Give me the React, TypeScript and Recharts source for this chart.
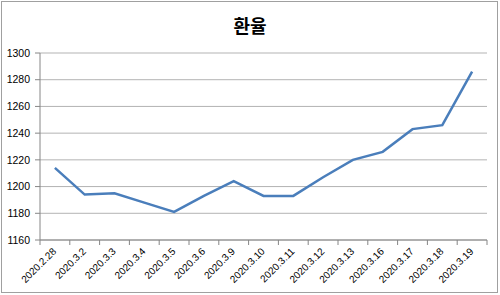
import { LineChart, Line, XAxis, YAxis, CartesianGrid } from "recharts";

const dates = [
  "2020.2.28",
  "2020.3.2",
  "2020.3.3",
  "2020.3.4",
  "2020.3.5",
  "2020.3.6",
  "2020.3.9",
  "2020.3.10",
  "2020.3.11",
  "2020.3.12",
  "2020.3.13",
  "2020.3.16",
  "2020.3.17",
  "2020.3.18",
  "2020.3.19",
];
const rates = [1214, 1194, 1195, 1188, 1181, 1193, 1204, 1193, 1193, 1207, 1220, 1226, 1243, 1246, 1286];
const yTicks = [1160, 1180, 1200, 1220, 1240, 1260, 1280, 1300];

const data = dates.map((d, i) => ({ date: d, rate: rates[i] }));

const axisGray = "#868686";
const gridGray = "#b3b3b3";
const lineBlue = "#4a7ebb";
const labelFont = "'Liberation Sans', Arial, sans-serif";

function DateTick(props: any) {
  const { x, y, payload } = props;
  const half = payload.offset || 0;
  const isLast = payload.value === dates[dates.length - 1];
  const ax = x + 2;
  const ay = y + 12;
  return (
    <g>
      <line x1={x - half} x2={x - half} y1={y} y2={y + 5} stroke={axisGray} />
      {isLast && <line x1={x + half} x2={x + half} y1={y} y2={y + 5} stroke={axisGray} />}
      <text
        x={ax}
        y={ay}
        textAnchor="end"
        fontSize={10}
        fontFamily={labelFont}
        fill="#000"
        transform={`rotate(-45 ${ax} ${ay})`}
      >
        {payload.value}
      </text>
    </g>
  );
}

export default function App() {
  return (
    <div style={{ position: "absolute", left: 0, top: 0, width: 500, height: 295, background: "#fff" }}>
      <div
        style={{
          position: "absolute",
          left: 1,
          top: 1,
          width: 497,
          height: 292,
          border: "1px solid #a0a0a0",
          boxSizing: "border-box",
          pointerEvents: "none",
        }}
      />
      <div
        style={{
          position: "absolute",
          left: 0,
          top: 13,
          width: 500,
          textAlign: "center",
          fontFamily: "'Noto Sans CJK KR', sans-serif",
          fontWeight: 700,
          fontSize: 18,
          lineHeight: "24px",
          color: "#000",
        }}
      >
        환율
      </div>
      <LineChart width={500} height={295} data={data} margin={{ top: 53, right: 13, bottom: 0, left: 0 }}>
        <CartesianGrid vertical={false} stroke={gridGray} />
        <XAxis
          dataKey="date"
          scale="band"
          interval={0}
          height={55}
          stroke={axisGray}
          tickLine={false}
          tickSize={0}
          tickMargin={0}
          tick={<DateTick />}
        />
        <YAxis
          domain={[1160, 1300]}
          ticks={yTicks}
          width={40}
          stroke={axisGray}
          tickSize={5}
          tickMargin={5}
          tick={{ fontSize: 10.5, fill: "#000", fontFamily: labelFont }}
          interval={0}
        />
        <Line
          type="linear"
          dataKey="rate"
          stroke={lineBlue}
          strokeWidth={2.5}
          dot={false}
          isAnimationActive={false}
        />
      </LineChart>
    </div>
  );
}
